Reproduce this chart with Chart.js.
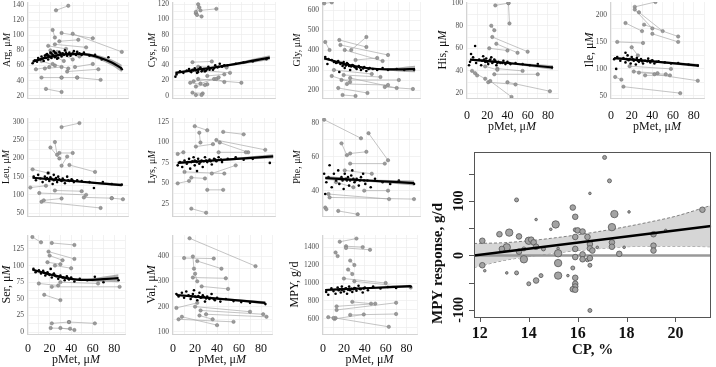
<!DOCTYPE html>
<html>
<head>
<meta charset="utf-8">
<script src="https://cdn.jsdelivr.net/npm/chart.js@4.4.1/dist/chart.umd.min.js"></script>
<style>
  html, body { margin: 0; padding: 0; background: #fff; }
  #fig { position: relative; width: 716px; height: 367px; overflow: hidden; }
  canvas { position: absolute; }
</style>
</head>
<body>
<div id="fig"></div>
<script>
// ---- data ----
// dots: [pMet, conc] per observation; pairs: [x1,y1,x2,y2] linked study means; fit: [x, fit, halfwidth]
const argDots = [[4,63],[6,67],[8,65],[9,70],[11,68],[12,72],[14,66],[15,73],[16,70],[17,75],[18,68],[19,72],[20,77],[21,70],[22,74],[23,79],[24,71],[25,76],[26,69],[27,74],[28,78],[30,72],[31,76],[33,80],[35,73],[37,77],[39,75],[41,79],[43,74],[46,76],[50,77],[55,73],[60,74],[66,68],[72,71],[84,55],
  [13,69],[16,74],[18,73],[20,71],[21,76],[23,73],[24,77],[25,72],[27,70],[29,76],[32,74],[34,77],[36,75],[38,73],[40,76],[44,78],[48,74]];
const argPairs = [[25,133,36,139],[22,107,24,97],[30,103,58,96],[40,102,84,78],[28,92,45,94],[18,86,34,82],[24,88,52,84],[20,80,46,72],[26,78,40,68],[12,66,24,60],[15,56,30,58],[7,55,19,58],[35,52,63,55],[42,58,58,62],[12,44,30,44],[30,44,44,44],[44,44,65,41],[16,29,30,25],[22,62,36,56],[20,74,32,66]];
const argFit = [[4,65,2],[15,70,1.5],[25,73,1.2],[35,75,1.2],[45,75.5,1.5],[55,74,2],[65,70,3],[75,64,4],[84,56,5]];

const cysDots = [[2,25],[3,28],[6,32],[9,30],[12,33],[14,35],[16,31],[18,33],[19,36],[21,30],[22,34],[24,37],[25,32],[27,35],[29,33],[31,38],[33,36],[35,34],[37,40],[39,37],[41,42],[43,38],[48,40],[55,42],[62,44],[70,45],[82,48],
  [15,32],[17,34],[20,33],[22,31],[23,35],[26,34],[28,32],[30,35],[32,34],[36,36],[40,38],[45,40]];
const cysPairs = [[20,108,22,120],[21,106,25,104],[24,112,38,114],[20,110,23,116],[17,44,34,45],[22,38,47,37],[27,33,50,30],[18,19,36,22],[20,12,30,15],[38,22,45,18],[22,22,60,17],[17,4,26,3],[20,1,25,1],[24,16,40,24],[15,17,28,14],[30,26,45,28]];
const cysFit = [[2,30,1.5],[20,34,1],[40,38,1],[60,43,2],[85,50,3]];

const glyDots = [[2,365],[4,330],[5,355],[8,350],[10,340],[12,335],[14,345],[15,290],[16,330],[18,320],[19,340],[20,310],[22,335],[24,320],[25,300],[27,325],[29,315],[31,305],[33,320],[35,300],[38,315],[40,295],[43,310],[46,305],[50,300],[55,310],[60,300],[68,305],[75,300],[84,300],
  [13,338],[17,335],[19,328],[21,322],[23,330],[26,318],[28,322],[30,312],[34,312],[37,308],[42,305]];
const glyPairs = [[1,633,8,638],[15,450,40,415],[40,465,26,400],[2,440,6,400],[16,425,60,375],[20,400,55,345],[25,260,68,210],[14,210,41,185],[18,175,30,170],[17,250,70,250],[19,275,53,265],[57,215,83,205],[10,300,45,280],[22,230,60,225],[8,270,25,240],[30,350,50,360]];
const glyFit = [[1,358,6],[10,345,4],[20,330,3],[30,318,3],[40,310,3],[50,305,4],[60,303,6],[70,303,10],[85,305,16]];

const hisDots = [[2,45],[3,48],[4,55],[6,52],[8,62],[9,47],[12,50],[14,45],[16,53],[18,48],[19,51],[21,46],[22,49],[24,52],[25,47],[27,50],[29,45],[31,48],[33,47],[36,49],[38,46],[40,48],[43,46],[48,47],[55,46],[62,45],[70,46],[84,43],
  [15,49],[17,50],[20,48],[23,50],[26,48],[28,49],[30,47],[35,47],[42,47]];
const hisPairs = [[28,98,41,100],[41,100,42,82],[24,80,27,76],[25,70,60,57],[29,64,50,56],[22,60,40,58],[8,38,18,33],[27,37,70,37],[21,30,48,28],[40,30,82,22],[23,31,44,17],[5,40,10,36],[30,42,55,40],[18,44,30,41]];
const hisFit = [[3,50,1],[40,47,0.8],[85,43,2]];

const ileDots = [[3,118],[5,100],[6,122],[9,115],[12,120],[14,112],[14,130],[16,125],[18,118],[19,110],[20,122],[22,115],[24,108],[25,120],[27,113],[29,118],[31,110],[33,115],[36,119],[38,112],[40,116],[42,110],[46,114],[52,112],[58,110],[65,111],[75,108],[84,106],
  [15,118],[17,116],[21,118],[23,117],[26,115],[28,116],[30,114],[35,114],[39,115],[44,113]];
const ilePairs = [[23,215,43,224],[23,210,40,175],[27,205,50,170],[14,185,30,170],[32,182,65,160],[40,165,65,150],[6,150,31,148],[4,85,10,80],[12,67,67,55],[42,90,84,78],[27,93,53,90],[18,105,58,100],[33,88,57,88],[20,140,26,125],[22,95,45,92]];
const ileFit = [[3,120,2],[40,114,1.5],[85,106,3]];

const leuDots = [[5,150],[7,140],[9,155],[11,145],[13,135],[15,150],[16,142],[18,160],[19,138],[20,148],[22,130],[23,155],[24,142],[26,135],[27,150],[29,140],[31,145],[33,132],[35,150],[37,138],[39,143],[41,135],[44,140],[48,138],[55,135],[59,119],[67,135],[75,130],[84,128],
  [17,146],[21,144],[23,140],[25,146],[28,143],[30,138],[32,141],[36,140],[40,139]];
const leuPairs = [[30,286,46,297],[24,245,26,210],[28,215,40,215],[35,205,30,180],[37,182,60,163],[4,170,18,160],[2,120,16,125],[12,81,65,64],[14,85,30,90],[50,93,75,91],[75,91,85,88],[10,105,52,100],[24,112,48,110],[20,230,28,200]];
const leuFit = [[4,147,3],[40,138,2],[84,127,4]];

const lysDots = [[4,72],[6,76],[8,70],[10,78],[12,74],[14,80],[15,68],[16,76],[18,82],[19,72],[20,77],[21,65],[22,80],[23,74],[25,78],[26,70],[28,82],[30,76],[32,79],[34,73],[36,80],[38,77],[40,82],[43,76],[48,80],[55,82],[62,79],[70,80],[85,75],
  [13,76],[17,77],[19,78],[21,76],[24,76],[27,77],[29,78],[33,77],[37,79],[42,79]];
const lysPairs = [[19,120,30,115],[44,113,62,110],[23,112,24,100],[38,103,81,91],[41,100,66,88],[40,88,64,88],[4,86,9,88],[30,42,44,42],[16,19,29,14],[4,50,14,53],[10,64,45,62],[16,57,28,56],[34,62,55,72],[20,95,35,98]];
const lysFit = [[4,75,1.5],[40,78.5,1],[88,83,2.5]];

const pheDots = [[1,50],[2,38],[3,45],[5,48],[6,55],[8,42],[10,50],[12,46],[14,52],[15,44],[17,48],[19,41],[20,50],[22,46],[24,43],[26,49],[27,52],[29,45],[31,47],[33,43],[35,48],[37,50],[39,44],[41,46],[44,42],[48,47],[55,45],[62,44],[70,46],[84,44],
  [16,47],[18,46],[21,47],[23,48],[25,46],[28,47],[30,46],[34,46],[38,46]];
const phePairs = [[1,82,35,71],[42,74,60,58],[17,68,22,61],[25,62,40,63],[25,56,57,56],[5,38,61,35],[6,36,84,35],[14,28,32,26],[2,30,3,29],[38,40,60,40],[20,52,45,50],[12,45,28,42]];
const pheFit = [[2,47.5,1.2],[40,46,0.8],[84,44.5,1.5]];

const serDots = [[5,95],[7,90],[10,93],[12,88],[14,92],[16,85],[18,90],[20,86],[21,95],[22,82],[24,88],[26,84],[28,80],[30,85],[32,82],[34,78],[36,84],[38,79],[40,82],[43,76],[48,80],[55,78],[62,83],[70,75],[84,78],
  [15,89],[17,88],[19,87],[23,86],[25,85],[27,84],[29,83],[33,82],[37,81]];
const serPairs = [[4,143,12,135],[22,134,43,131],[19,121,43,110],[20,115,32,108],[10,73,28,70],[15,56,30,48],[22,68,85,68],[30,75,65,73],[22,13,38,15],[38,15,62,13],[21,6,39,5],[30,6,43,3],[25,100,40,96],[18,105,30,102]];
const serFit = [[4,94,2],[10,91,1.5],[20,87,1.2],[30,83,1.2],[40,80,1.2],[50,78.5,1.5],[60,78.5,2.5],[70,79.5,4],[84,81,6]];

const valDots = [[3,250],[5,240],[8,255],[10,235],[12,260],[14,245],[16,230],[18,250],[19,265],[20,240],[22,225],[24,255],[25,235],[27,245],[29,220],[31,240],[33,230],[35,250],[38,225],[40,235],[43,220],[48,230],[55,222],[62,218],[70,215],[84,210],
  [15,242],[17,240],[21,238],[23,242],[26,236],[28,238],[30,232],[34,234],[37,230]];
const valPairs = [[15,470,75,360],[10,392,37,390],[18,398,19,350],[22,380,44,350],[18,315,48,312],[3,195,22,215],[5,150,55,140],[8,160,40,127],[20,200,70,180],[25,185,82,170],[30,170,85,160],[24,165,36,150],[20,330,22,300],[26,280,50,270]];
const valFit = [[3,246,4],[40,232,3],[84,215,6]];

const mpyDots = [[3,900],[5,870],[8,940],[10,910],[12,880],[14,950],[15,920],[17,895],[18,960],[19,930],[20,905],[22,940],[23,880],[25,960],[26,920],[28,900],[30,945],[32,915],[34,970],[36,930],[38,895],[40,950],[43,920],[48,960],[55,940],[62,955],[70,945],[84,960],
  [16,930],[18,925],[21,935],[24,925],[27,935],[29,930],[31,940],[35,935],[39,940]];
const mpyPairs = [[16,1460,32,1495],[22,1410,38,1400],[12,1340,14,1300],[22,1390,45,1370],[24,1150,28,1100],[26,1250,30,1200],[13,700,70,780],[13,740,50,770],[26,645,70,655],[11,600,39,650],[12,610,63,512],[5,620,10,610],[28,790,46,770],[20,1050,60,1000],[30,1020,84,950]];
const mpyFit = [[2,922,10],[40,942,8],[84,965,15]];

// MPY response vs CP panel
const cpX = [17.1,17.3,16.5,13.5,15.8,18.1,17.5,21.1,15.9,14.3,15.1,14.9,17.4,15.9,16.0,16.2,19.6,12.8,13.2,13.6,16.4,15.9,12.1,14.0,14.1,14.2,19.1,17.4,16.5,17.4,19.1,19.1,17.9,16.8,16.5,14.3,13.1,12.9,14.6,13.8,13.6,16.6,15.9,15.2,16.2,17.7,15.2,13.8,15.9,16.2,16.4,16.5,12.1,12.2,13.1,13.5,15.2,15.8,16.5,15.2,15.6,14.5,14.3,14.0,15.9,15.9,15.9,15.8,15.9,16.5];
const cpY = [180,137,114,102,88,80,76,84,71,66,57,48,52,47,46,44,46,39,42,35,34,34,27,27,29,24,39,24,21,16,18,9,15,15,13,16,15,12,12,12,7,9,12,4,2,3,13,-7,-3,-7,-8,-5,-18,-28,-32,-32,-14,-23,-18,-37,-37,-37,-46,-52,-41,-52,-57,-62,-63,-101];
const cpWeight = [2,2,1,2,3,1,4,3,3,1,4,1,4,2,3,3,1,3,4,3,3,3,3,4,3,3,3,3,3,3,3,3,1,1,3,3,4,3,2,2,3,3,3,4,3,3,1,4,3,3,2,3,3,1,1,2,4,2,2,4,1,2,3,2,3,3,3,3,3,2];
const cpLineX = [11.76, 21.46];
const cpLineY = [0, 54];
const cpBandX = [11.76,13,14,15,16,17,18,19,20,21.46];
const cpBandLow = [-22,-9,-2,4,9,13,16,17,17,16];
const cpBandHigh = [22,23.5,27,32,38,45,53,62,72,92];
const cpXTicks = [12,14,16,18,20];
const cpYLabels = [100, 0, -100];

const pMetTicks = [0,20,40,60,80];

// ---- drawing ----
const SERIF = '"Liberation Serif", "DejaVu Serif", serif';
const fig = document.getElementById('fig');

function writeParts(ctx, parts, x, y, rot, size, bold) {
  ctx.save();
  ctx.translate(x, y);
  ctx.rotate(rot);
  ctx.textBaseline = 'middle';
  ctx.textAlign = 'left';
  ctx.fillStyle = '#111';
  const fonts = parts.map(p => (p[1] ? 'italic ' : '') + (bold ? 'bold ' : '') + size + 'px ' + SERIF);
  let total = 0;
  const widths = parts.map((p, i) => { ctx.font = fonts[i]; const w = ctx.measureText(p[0]).width; total += w; return w; });
  let cx = -total / 2;
  parts.forEach((p, i) => { ctx.font = fonts[i]; ctx.fillText(p[0], cx, 0); cx += widths[i]; });
  ctx.restore();
}

const axisText = {
  id: 'axisText',
  afterDraw(chart, args, o) {
    const ctx = chart.ctx, a = chart.chartArea;
    if (o.y) writeParts(ctx, o.y, a.left - o.yGap, (a.top + a.bottom) / 2 + (o.yShift || 0), -Math.PI / 2, o.size, o.bold);
    if (o.x) writeParts(ctx, o.x, (a.left + a.right) / 2 + (o.xShift || 0), a.bottom + o.xGap, 0, o.size, o.bold);
  }
};
Chart.register(axisText);

function addCanvas(left, top, w, h) {
  const c = document.createElement('canvas');
  c.width = w; c.height = h;
  c.style.left = left + 'px'; c.style.top = top + 'px';
  c.style.width = w + 'px'; c.style.height = h + 'px';
  fig.appendChild(c);
  return c;
}

const isMajor = (v, m) => Math.abs(v / m - Math.round(v / m)) < 1e-6;
const pMetTitle = [['pMet, μ', false], ['M', true]];

// grid positions every `step` inside [lo, hi]
function stepTicks(lo, hi, step) {
  const out = [];
  for (let v = Math.ceil(lo / step) * step; v <= hi + 1e-9; v += step) out.push({ value: Math.round(v * 1000) / 1000 });
  return out;
}

// box: [left, top, right, bottom, title gap]; xAx: null or [label padding, title offset, axis height]
function panel(name, dots, pairs, fit, box, yr, xAx) {
  const [L, T, R, B, tGap] = box;
  const yW = 34, padTop = 9, padRight = 2;
  const xH = xAx ? xAx[2] : 9;
  const cv = addCanvas(L - yW, T - padTop, R - L + yW + padRight, B - T + padTop + xH);

  const lineData = [];
  pairs.forEach(p => lineData.push({x: p[0], y: p[1]}, {x: p[2], y: p[3]}, {x: p[2], y: null}));
  const grayPts = pairs.flatMap(p => [{x: p[0], y: p[1]}, {x: p[2], y: p[3]}]);
  const yTitle = name === 'MPY' ? [['MPY, g/d', false]] : [[name + ', μ', false], ['M', true]];

  new Chart(cv, {
    type: 'scatter',
    data: {
      datasets: [
        { data: lineData, showLine: true, spanGaps: false, borderColor: '#ababab', borderWidth: 0.7, pointRadius: 0, order: 5 },
        { data: grayPts, pointRadius: 1.7, backgroundColor: '#9a9a9a', borderColor: '#7a7a7a', borderWidth: 0.5, order: 4 },
        { data: dots.map(d => ({x: d[0], y: d[1]})), pointRadius: 1.3, backgroundColor: '#000', borderWidth: 0, order: 3 },
        { data: fit.map(f => ({x: f[0], y: f[1] - f[2]})), showLine: true, borderWidth: 0, pointRadius: 0, cubicInterpolationMode: 'monotone', order: 2 },
        { data: fit.map(f => ({x: f[0], y: f[1] + f[2]})), showLine: true, borderWidth: 0, pointRadius: 0, cubicInterpolationMode: 'monotone',
          fill: '-1', backgroundColor: 'rgba(80,80,80,0.45)', order: 1 },
        { data: fit.map(f => ({x: f[0], y: f[1]})), showLine: true, borderColor: '#000', borderWidth: 2.2, pointRadius: 0, cubicInterpolationMode: 'monotone', order: 0 }
      ]
    },
    options: {
      responsive: false, animation: false, events: [], devicePixelRatio: 1,
      layout: { padding: { top: padTop, right: padRight, left: 0, bottom: 0 } },
      plugins: {
        legend: { display: false }, tooltip: { enabled: false },
        axisText: { y: yTitle, yGap: tGap, x: xAx ? pMetTitle : null, xGap: xAx ? xAx[1] : 0, size: xAx ? 12 : 10, bold: false }
      },
      scales: {
        x: {
          type: 'linear', min: -1, max: 90,
          afterFit: s => { s.height = xH; },
          afterBuildTicks: s => { s.ticks = stepTicks(-1, 90, 10); },
          grid: { color: '#ececec', lineWidth: 0.7, drawTicks: false },
          border: { display: true, color: '#d4d4d4' },
          ticks: {
            display: !!xAx, padding: xAx ? xAx[0] : 0,
            color: '#111', font: { family: SERIF, size: 12 },
            maxRotation: 0, autoSkip: false,
            callback: v => pMetTicks.includes(v) ? String(v) : ''
          }
        },
        y: {
          type: 'linear', min: yr[0], max: yr[1],
          afterFit: s => { s.width = yW; },
          afterBuildTicks: s => { s.ticks = stepTicks(yr[0], yr[1], yr[2]); },
          grid: { color: '#ececec', lineWidth: 0.7, drawTicks: false },
          border: { display: true, color: '#d4d4d4' },
          ticks: {
            padding: 3, autoSkip: false,
            color: '#4d4d4d', font: { family: SERIF, size: 7.5 },
            callback: v => isMajor(v, yr[3]) ? String(v) : ''
          }
        }
      }
    }
  });
}

panel('Arg', argDots, argPairs, argFit, [27, 2, 131, 98, 20], [17, 144, 10, 20], null);
panel('Cys', cysDots, cysPairs, cysFit, [172, 2, 278, 98, 20], [-3, 123, 10, 20], null);
panel('Gly', glyDots, glyPairs, glyFit, [322, 2, 423, 98, 25], [160, 640, 50, 100], null);
panel('His', hisDots, hisPairs, hisFit, [466, 2, 567, 98, 23], [16, 101, 10, 20], [11, 29, 37]);
panel('Ile', ileDots, ilePairs, ileFit, [610, 2, 713, 98, 20], [46, 224, 25, 50], [11, 29, 37]);
panel('Leu', leuDots, leuPairs, leuFit, [27, 118, 131, 216, 21], [42, 311, 25, 50], null);
panel('Lys', lysDots, lysPairs, lysFit, [172, 118, 278, 216, 20], [10, 130, 12.5, 25], null);
panel('Phe', pheDots, phePairs, pheFit, [322, 118, 423, 216, 25], [25, 83, 10, 20], null);
panel('Ser', serDots, serPairs, serFit, [27, 235, 131, 334, 20], [-3, 146, 12.5, 25], [8, 26, 33]);
panel('Val', valDots, valPairs, valFit, [172, 235, 278, 334, 20], [92, 483, 50, 100], [8, 26, 33]);
panel('MPY', mpyDots, mpyPairs, mpyFit, [322, 235, 423, 334, 27], [432, 1535, 100, 200], [8, 26, 33]);

// ---- MPY response vs CP ----
const radius = w => [0, 1.3, 2.0, 2.8, 3.7][w];
const cpFrame = {
  id: 'cpFrame',
  afterDraw(chart) {
    const ctx = chart.ctx, a = chart.chartArea, ys = chart.scales.y, xs = chart.scales.x;
    ctx.save();
    ctx.strokeStyle = '#555'; ctx.lineWidth = 1;
    ctx.strokeRect(Math.round(a.left) + 0.5, Math.round(a.top) + 0.5, Math.round(a.right - a.left) - 1, Math.round(a.bottom - a.top));
    ctx.beginPath();
    ys.ticks.forEach(t => { const y = Math.round(ys.getPixelForValue(t.value)) + 0.5; ctx.moveTo(a.left - 5, y); ctx.lineTo(a.left, y); });
    cpXTicks.forEach(v => { const x = Math.round(xs.getPixelForValue(v)) + 0.5; ctx.moveTo(x, a.bottom); ctx.lineTo(x, a.bottom + 5); });
    ctx.stroke();
    ctx.fillStyle = '#111';
    ctx.font = 'bold 14px ' + SERIF;
    ctx.textAlign = 'center'; ctx.textBaseline = 'middle';
    cpYLabels.forEach(v => {
      ctx.save();
      ctx.translate(a.left - 15, ys.getPixelForValue(v));
      ctx.rotate(-Math.PI / 2);
      ctx.fillText(String(v), 0, 0);
      ctx.restore();
    });
    ctx.restore();
  }
};

const cpCanvas = addCanvas(420, 140, 296, 227);
new Chart(cpCanvas, {
  type: 'scatter',
  data: {
    datasets: [
      { data: cpBandX.map((x, i) => ({x, y: cpBandLow[i]})), showLine: true, borderColor: '#666', borderWidth: 0.8, borderDash: [3, 2],
        pointRadius: 0, cubicInterpolationMode: 'monotone', order: 4 },
      { data: cpBandX.map((x, i) => ({x, y: cpBandHigh[i]})), showLine: true, borderColor: '#666', borderWidth: 0.8, borderDash: [3, 2],
        pointRadius: 0, cubicInterpolationMode: 'monotone', fill: '-1', backgroundColor: '#d6d6d6', order: 3 },
      { data: cpLineX.map(x => ({x, y: 0})), showLine: true, borderColor: '#999', borderWidth: 2.5, pointRadius: 0, order: 2 },
      { data: cpX.map((x, i) => ({x, y: cpY[i]})), pointRadius: ctx => radius(cpWeight[ctx.dataIndex]),
        backgroundColor: '#a3a3a3', borderColor: '#555', borderWidth: 0.8, order: 1 },
      { data: cpLineX.map((x, i) => ({x, y: cpLineY[i]})), showLine: true, borderColor: '#000', borderWidth: 2.5, pointRadius: 0, order: 0 }
    ]
  },
  plugins: [cpFrame],
  options: {
    responsive: false, animation: false, events: [], devicePixelRatio: 1,
    layout: { padding: { top: 12, right: 3, left: 0, bottom: 0 } },
    plugins: {
      legend: { display: false }, tooltip: { enabled: false },
      axisText: { y: [['MPY response, g/d', false]], yGap: 36, yShift: 29, x: [['CP, %', false]], xGap: 33, size: 15, bold: true }
    },
    scales: {
      x: {
        type: 'linear', min: 11.76, max: 21.46,
        afterFit: s => { s.height = 50; },
        afterBuildTicks: s => { s.ticks = cpXTicks.map(v => ({ value: v })); },
        grid: { display: false, drawTicks: false },
        border: { display: false },
        ticks: { padding: 7, color: '#111', maxRotation: 0, autoSkip: false,
          font: { family: SERIF, size: 16, weight: 'bold' } }
      },
      y: {
        type: 'linear', min: -113, max: 190,
        afterFit: s => { s.width = 54; },
        afterBuildTicks: s => { s.ticks = stepTicks(-113, 190, 50); },
        grid: { display: false, drawTicks: false },
        border: { display: false },
        ticks: { padding: 0, autoSkip: false, callback: () => '' }
      }
    }
  }
});
</script>
</body>
</html>
